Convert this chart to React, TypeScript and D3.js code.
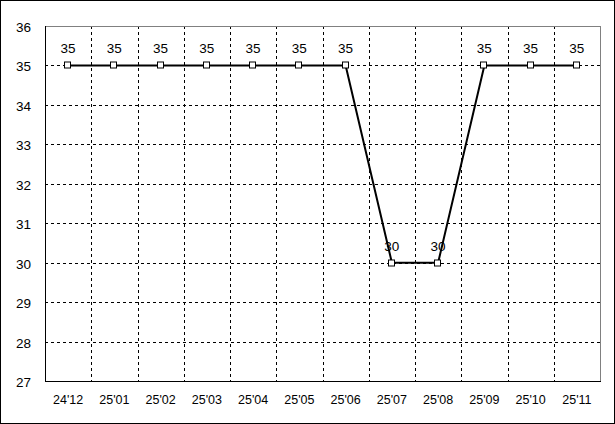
import React from "react";
import * as d3 from "d3";

const categories = ["24'12", "25'01", "25'02", "25'03", "25'04", "25'05", "25'06", "25'07", "25'08", "25'09", "25'10", "25'11"];
const values = [35, 35, 35, 35, 35, 35, 35, 30, 30, 35, 35, 35];
const yTicks = [27, 28, 29, 30, 31, 32, 33, 34, 35, 36];

const W = 615, H = 424;
const L = 45, R = 600, T = 26, B = 381;
const font = "'Liberation Sans', Arial, sans-serif";

export default function App() {
  const x = d3.scaleBand<string>().domain(categories).range([L, R]).padding(0);
  const y = d3.scaleLinear().domain([27, 36]).range([B, T]);
  const cx = (c: string) => (x(c) as number) + x.bandwidth() / 2;
  const line = d3.line<number>().x((_, i) => cx(categories[i])).y((v) => y(v));
  return (
    <svg width={W} height={H} style={{ position: "absolute", left: 0, top: 0, background: "#fff" }}>
      <rect x={0.5} y={0.5} width={W - 1} height={H - 1} fill="#fff" stroke="#000" />
      {yTicks.slice(1, -1).map((t) => (
        <line key={"h" + t} x1={L} x2={R} y1={Math.round(y(t)) + 0.5} y2={Math.round(y(t)) + 0.5} stroke="#000" strokeDasharray="3,3" />
      ))}
      {categories.slice(1).map((c) => (
        <line key={"v" + c} x1={Math.round(x(c) as number) + 0.5} x2={Math.round(x(c) as number) + 0.5} y1={T} y2={B} stroke="#000" strokeDasharray="3,3" />
      ))}
      <line x1={L} x2={R} y1={T + 0.5} y2={T + 0.5} stroke="#808080" />
      <line x1={R + 0.5} x2={R + 0.5} y1={T} y2={B} stroke="#808080" />
      <line x1={L + 0.5} x2={L + 0.5} y1={T} y2={B + 1} stroke="#000" />
      <line x1={L} x2={R + 1} y1={B + 0.5} y2={B + 0.5} stroke="#000" />
      {yTicks.map((t) => (
        <text key={"yl" + t} x={31} y={y(t) + 6} textAnchor="end" fontFamily={font} fontSize={13.5} fill="#000">{t}</text>
      ))}
      {categories.map((c) => (
        <text key={"xl" + c} x={cx(c)} y={404} textAnchor="middle" fontFamily={font} fontSize={12.5} fill="#000">{c}</text>
      ))}
      <path d={line(values) || ""} fill="none" stroke="#000" strokeWidth={2} />
      {values.map((v, i) => (
        <rect key={"m" + i} x={Math.round(cx(categories[i])) - 3.5} y={Math.round(y(v)) - 3} width={6} height={6} fill="#fff" stroke="#000" strokeWidth={1} />
      ))}
      {values.map((v, i) => (
        <text key={"d" + i} x={cx(categories[i])} y={y(v) - 12} textAnchor="middle" fontFamily={font} fontSize={13.5} fill="#000">{v}</text>
      ))}
    </svg>
  );
}
